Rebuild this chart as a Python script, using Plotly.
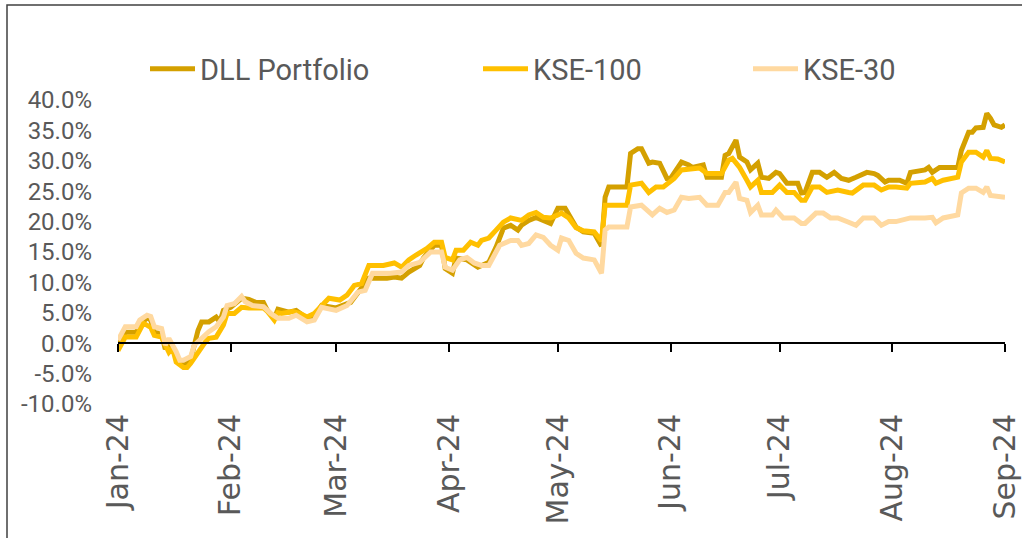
import plotly.graph_objects as go

# ---------------- data ----------------
dll_dates = ["2024-01-01","2024-01-03","2024-01-06","2024-01-07","2024-01-09","2024-01-10","2024-01-11","2024-01-13",
             "2024-01-14","2024-01-15","2024-01-17","2024-01-18","2024-01-20","2024-01-21","2024-01-23","2024-01-24",
             "2024-01-26","2024-01-28","2024-01-29","2024-01-30","2024-02-01","2024-02-04","2024-02-06","2024-02-08",
             "2024-02-10","2024-02-11","2024-02-13","2024-02-14","2024-02-17","2024-02-19","2024-02-22","2024-02-24",
             "2024-02-26","2024-03-01","2024-03-05","2024-03-08","2024-03-10","2024-03-15","2024-03-17","2024-03-19",
             "2024-03-21","2024-03-24","2024-03-25","2024-03-28","2024-03-30","2024-03-31","2024-04-02","2024-04-03",
             "2024-04-06","2024-04-09","2024-04-12","2024-04-14","2024-04-16","2024-04-18","2024-04-20","2024-04-21",
             "2024-04-23","2024-04-25","2024-04-27","2024-04-29","2024-05-01","2024-05-03","2024-05-06","2024-05-08",
             "2024-05-11","2024-05-13","2024-05-14","2024-05-15","2024-05-20","2024-05-21","2024-05-23","2024-05-24",
             "2024-05-26","2024-05-27","2024-05-29","2024-05-31","2024-06-01","2024-06-04","2024-06-06","2024-06-07",
             "2024-06-10","2024-06-11","2024-06-15","2024-06-16","2024-06-17","2024-06-19","2024-06-20","2024-06-21",
             "2024-06-22","2024-06-23","2024-06-25","2024-06-26","2024-06-28","2024-06-30","2024-07-01","2024-07-03",
             "2024-07-06","2024-07-07","2024-07-08","2024-07-10","2024-07-12","2024-07-14","2024-07-16","2024-07-18",
             "2024-07-20","2024-07-22","2024-07-25","2024-07-27","2024-07-28","2024-07-30","2024-07-31","2024-08-03",
             "2024-08-05","2024-08-06","2024-08-09","2024-08-10","2024-08-11","2024-08-12","2024-08-14","2024-08-19",
             "2024-08-20","2024-08-22","2024-08-23","2024-08-24","2024-08-26","2024-08-27","2024-08-28","2024-08-29",
             "2024-08-31","2024-09-01"]
dll_values = [-0.5, 1.8, 1.8, 3.0, 4.2, 3.8, 1.8, 1.5,
              -1.0, 0.3, -2.0, -3.3, -3.3, -2.7, 2.1, 3.5,
              3.5, 4.3, 3.5, 5.4, 5.9, 7.4, 7.2, 6.7,
              6.7, 5.5, 4.1, 5.6, 5.1, 5.4, 4.1, 4.3,
              6.2, 5.8, 6.7, 9.0, 10.7, 10.7, 10.9, 10.7,
              11.7, 12.8, 14.0, 16.1, 16.1, 12.3, 11.5, 14.0,
              13.7, 12.5, 13.3, 15.8, 18.9, 19.4, 18.6, 19.4,
              20.2, 20.7, 20.2, 19.7, 22.2, 22.2, 19.1, 18.3,
              18.1, 16.0, 24.0, 25.7, 25.7, 31.2, 32.0, 32.0,
              29.6, 29.8, 29.6, 27.1, 27.1, 29.8, 29.3, 28.9,
              29.3, 27.3, 27.3, 30.9, 31.2, 33.4, 30.6, 30.1,
              29.8, 28.5, 29.6, 27.3, 27.1, 28.1, 27.9, 26.3,
              26.3, 24.7, 24.8, 28.1, 28.1, 27.3, 28.1, 27.1,
              26.8, 27.3, 28.1, 27.9, 27.6, 26.5, 26.8, 26.8,
              26.3, 28.1, 28.5, 28.5, 28.9, 28.1, 28.9, 28.9,
              31.7, 34.7, 34.7, 35.4, 35.5, 37.8, 37.0, 35.9,
              35.5, 35.9]

kse100_dates = ["2024-01-01","2024-01-03","2024-01-06","2024-01-08","2024-01-10","2024-01-11","2024-01-13","2024-01-15",
                "2024-01-16","2024-01-17","2024-01-19","2024-01-20","2024-01-21","2024-01-23","2024-01-25","2024-01-26",
                "2024-01-28","2024-01-30","2024-01-31","2024-02-02","2024-02-04","2024-02-06","2024-02-10","2024-02-11",
                "2024-02-13","2024-02-14","2024-02-15","2024-02-18","2024-02-20","2024-02-22","2024-02-24","2024-02-28",
                "2024-03-02","2024-03-04","2024-03-06","2024-03-08","2024-03-10","2024-03-14","2024-03-17","2024-03-19",
                "2024-03-21","2024-03-23","2024-03-26","2024-03-28","2024-03-30","2024-03-31","2024-04-02","2024-04-03",
                "2024-04-05","2024-04-07","2024-04-09","2024-04-10","2024-04-12","2024-04-14","2024-04-16","2024-04-18",
                "2024-04-20","2024-04-21","2024-04-23","2024-04-25","2024-04-27","2024-04-29","2024-05-01","2024-05-02",
                "2024-05-04","2024-05-06","2024-05-08","2024-05-11","2024-05-13","2024-05-14","2024-05-20","2024-05-21",
                "2024-05-24","2024-05-26","2024-05-28","2024-05-30","2024-06-02","2024-06-04","2024-06-09","2024-06-11",
                "2024-06-15","2024-06-17","2024-06-18","2024-06-20","2024-06-22","2024-06-23","2024-06-25","2024-06-26",
                "2024-06-29","2024-07-01","2024-07-03","2024-07-05","2024-07-07","2024-07-08","2024-07-10","2024-07-12",
                "2024-07-14","2024-07-17","2024-07-20","2024-07-21","2024-07-24","2024-07-27","2024-07-29","2024-07-31",
                "2024-08-02","2024-08-05","2024-08-06","2024-08-10","2024-08-12","2024-08-13","2024-08-15","2024-08-17",
                "2024-08-19","2024-08-20","2024-08-22","2024-08-24","2024-08-26","2024-08-27","2024-08-28","2024-08-30",
                "2024-09-01"]
kse100_values = [-1.2, 1.0, 1.0, 3.3, 2.6, 1.3, 1.0, -1.5,
                 -0.8, -3.1, -4.0, -4.0, -3.3, -1.5, 0.2, 0.8,
                 1.0, 3.0, 4.9, 4.9, 5.9, 5.8, 5.8, 5.3,
                 3.8, 5.0, 4.9, 5.2, 4.9, 4.3, 4.9, 7.4,
                 7.1, 7.9, 9.5, 9.8, 12.8, 12.8, 13.2, 12.5,
                 13.7, 14.5, 15.6, 16.6, 16.6, 14.1, 13.7, 15.3,
                 15.3, 16.6, 16.1, 16.9, 17.3, 18.6, 19.9, 20.6,
                 20.2, 20.2, 21.1, 21.5, 20.7, 20.6, 21.1, 21.4,
                 20.6, 19.0, 18.5, 18.3, 16.8, 22.7, 22.7, 26.0,
                 26.3, 24.8, 25.7, 25.7, 27.1, 28.5, 28.8, 27.9,
                 27.9, 30.1, 30.4, 28.9, 26.8, 25.7, 26.8, 24.8,
                 24.8, 26.0, 24.8, 24.8, 23.5, 23.5, 25.7, 25.7,
                 24.8, 25.2, 24.8, 24.7, 26.0, 26.0, 25.2, 25.7,
                 25.7, 25.5, 26.3, 26.5, 27.1, 26.3, 26.8, 27.1,
                 27.3, 29.8, 31.4, 31.4, 30.6, 31.7, 30.4, 30.3,
                 29.8]

kse30_dates = ["2024-01-01","2024-01-03","2024-01-06","2024-01-07","2024-01-09","2024-01-10","2024-01-11","2024-01-13",
               "2024-01-14","2024-01-15","2024-01-17","2024-01-18","2024-01-19","2024-01-21","2024-01-22","2024-01-24",
               "2024-01-25","2024-01-26","2024-01-28","2024-01-30","2024-01-31","2024-02-02","2024-02-04","2024-02-05",
               "2024-02-07","2024-02-10","2024-02-12","2024-02-14","2024-02-17","2024-02-19","2024-02-22","2024-02-24",
               "2024-02-26","2024-03-01","2024-03-04","2024-03-07","2024-03-09","2024-03-11","2024-03-16","2024-03-18",
               "2024-03-19","2024-03-21","2024-03-24","2024-03-27","2024-03-30","2024-03-31","2024-04-02","2024-04-04",
               "2024-04-06","2024-04-08","2024-04-10","2024-04-12","2024-04-15","2024-04-18","2024-04-20","2024-04-21",
               "2024-04-23","2024-04-25","2024-04-27","2024-04-29","2024-05-01","2024-05-02","2024-05-04","2024-05-06",
               "2024-05-08","2024-05-11","2024-05-13","2024-05-14","2024-05-15","2024-05-20","2024-05-21","2024-05-24",
               "2024-05-27","2024-05-29","2024-05-31","2024-06-02","2024-06-04","2024-06-06","2024-06-09","2024-06-11",
               "2024-06-14","2024-06-16","2024-06-17","2024-06-19","2024-06-20","2024-06-22","2024-06-23","2024-06-25",
               "2024-06-26","2024-06-29","2024-06-30","2024-07-02","2024-07-05","2024-07-07","2024-07-08","2024-07-11",
               "2024-07-13","2024-07-15","2024-07-17","2024-07-20","2024-07-22","2024-07-24","2024-07-27","2024-07-29",
               "2024-07-31","2024-08-02","2024-08-06","2024-08-10","2024-08-12","2024-08-13","2024-08-15","2024-08-19",
               "2024-08-20","2024-08-22","2024-08-24","2024-08-26","2024-08-27","2024-08-28","2024-08-31","2024-09-01"]
kse30_values = [0.5, 2.7, 2.7, 3.8, 4.6, 4.4, 2.7, 2.4,
                -0.3, 0.8, -1.4, -2.8, -2.8, -2.2, -0.3, 0.8,
                1.6, 1.9, 2.7, 4.3, 6.2, 6.5, 7.7, 6.8,
                6.2, 6.0, 4.9, 4.1, 4.1, 4.6, 3.5, 3.8,
                5.9, 5.4, 6.2, 8.4, 8.7, 11.5, 11.5, 11.7,
                11.7, 12.8, 13.3, 15.0, 15.0, 12.5, 12.0, 13.7,
                14.1, 13.2, 12.8, 12.8, 16.1, 16.9, 16.9, 16.1,
                16.4, 17.8, 17.4, 16.1, 15.3, 17.3, 16.9, 14.8,
                14.0, 13.7, 11.5, 18.6, 19.1, 19.1, 22.4, 22.7,
                21.1, 22.2, 21.5, 21.9, 24.0, 23.8, 24.0, 22.7,
                22.7, 24.8, 24.8, 26.5, 23.8, 23.5, 21.5, 22.7,
                21.1, 21.1, 21.9, 20.6, 20.6, 19.7, 19.7, 21.4,
                21.4, 20.6, 20.6, 19.9, 19.4, 20.6, 20.6, 19.4,
                20.0, 20.0, 20.6, 20.6, 20.7, 19.8, 20.6, 21.1,
                24.7, 25.5, 25.5, 24.8, 25.7, 24.3, 24.2, 24.0]

month_ticks = ["2024-01-01","2024-02-01","2024-03-01","2024-04-01","2024-05-01",
               "2024-06-01","2024-07-01","2024-08-01","2024-09-01"]
month_labels = ["Jan-24","Feb-24","Mar-24","Apr-24","May-24","Jun-24","Jul-24","Aug-24","Sep-24"]
y_ticks = [-10, -5, 0, 5, 10, 15, 20, 25, 30, 35, 40]
y_labels = ["-10.0%","-5.0%","0.0%","5.0%","10.0%","15.0%","20.0%","25.0%","30.0%","35.0%","40.0%"]

series_names = ["DLL Portfolio", "KSE-100", "KSE-30"]
series_colors = ["#D4A000", "#FFC000", "#FFD9A0"]

# ---------------- figure ----------------
W, H = 1022, 538
ML, MR, MT, MB = 118, 17, 100, 134
TXT = "#595959"
SANS = "Roboto, Lato, sans-serif"

fig = go.Figure()
all_x = [dll_dates, kse100_dates, kse30_dates]
all_y = [dll_values, kse100_values, kse30_values]
legends = ["legend", "legend2", "legend3"]
for name, col, xs, ys, lg in zip(series_names, series_colors, all_x, all_y, legends):
    fig.add_trace(go.Scatter(x=xs, y=ys, mode="lines", name=name, legend=lg,
                             line=dict(color=col, width=5, shape="linear"),
                             hoverinfo="x+y+name"))

# dummy trace to carry the zero-line axis with tick marks
fig.add_trace(go.Scatter(x=month_ticks, y=[None] * len(month_ticks), xaxis="x2", yaxis="y",
                         showlegend=False, hoverinfo="skip", mode="lines"))

xr = [month_ticks[0], month_ticks[-1]]
fig.update_layout(
    width=W, height=H, autosize=False,
    margin=dict(l=ML, r=MR, t=MT, b=MB, autoexpand=False),
    paper_bgcolor="white", plot_bgcolor="white",
    xaxis=dict(type="date", range=xr, tickvals=month_ticks, ticktext=month_labels,
               tickangle=-90, showgrid=False, zeroline=False, showline=False, ticks="",
               tickfont=dict(family="DejaVu Sans", size=30, color=TXT), automargin=False,
               ticklabelstandoff=3, ticklabeloverflow="allow"),
    xaxis2=dict(type="date", range=xr, overlaying="x", anchor="free", position=0.2,
                matches="x", showline=True, linecolor="black", linewidth=1.5, automargin=False,
                ticks="outside", ticklen=8, tickwidth=1.5, tickcolor="black",
                tickvals=month_ticks, showticklabels=False, showgrid=False, zeroline=False),
    yaxis=dict(range=[-10, 40], tickvals=y_ticks, ticktext=y_labels, showgrid=False,
               zeroline=False, showline=False, ticks="", automargin=False,
               tickfont=dict(family=SANS, size=24, color=TXT), ticklabelstandoff=25),
    showlegend=True,
)

pw, ph = W - ML - MR, H - MT - MB
leg_common = dict(orientation="h", yanchor="middle", xanchor="left", y=1.102,
                  font=dict(family=SANS, size=29, color=TXT), bgcolor="rgba(0,0,0,0)",
                  itemwidth=45)
fig.update_layout(
    legend=dict(x=(145 - ML) / pw, **leg_common),
    legend2=dict(x=(478 - ML) / pw, **leg_common),
    legend3=dict(x=(748 - ML) / pw, **leg_common),
)

# chart-area border (extends past the right and bottom edges, as in the reference)
fig.add_shape(type="rect", xref="paper", yref="paper",
              x0=(7 - ML) / pw, x1=(W + 10 - ML) / pw,
              y0=-(MB + 10) / ph, y1=(H - MB - 5) / ph,
              line=dict(color="#404040", width=1.5), fillcolor="rgba(0,0,0,0)", layer="below")

fig.write_html("out.html", config={"displayModeBar": False},
               post_script="document.body.style.margin='0px';")
